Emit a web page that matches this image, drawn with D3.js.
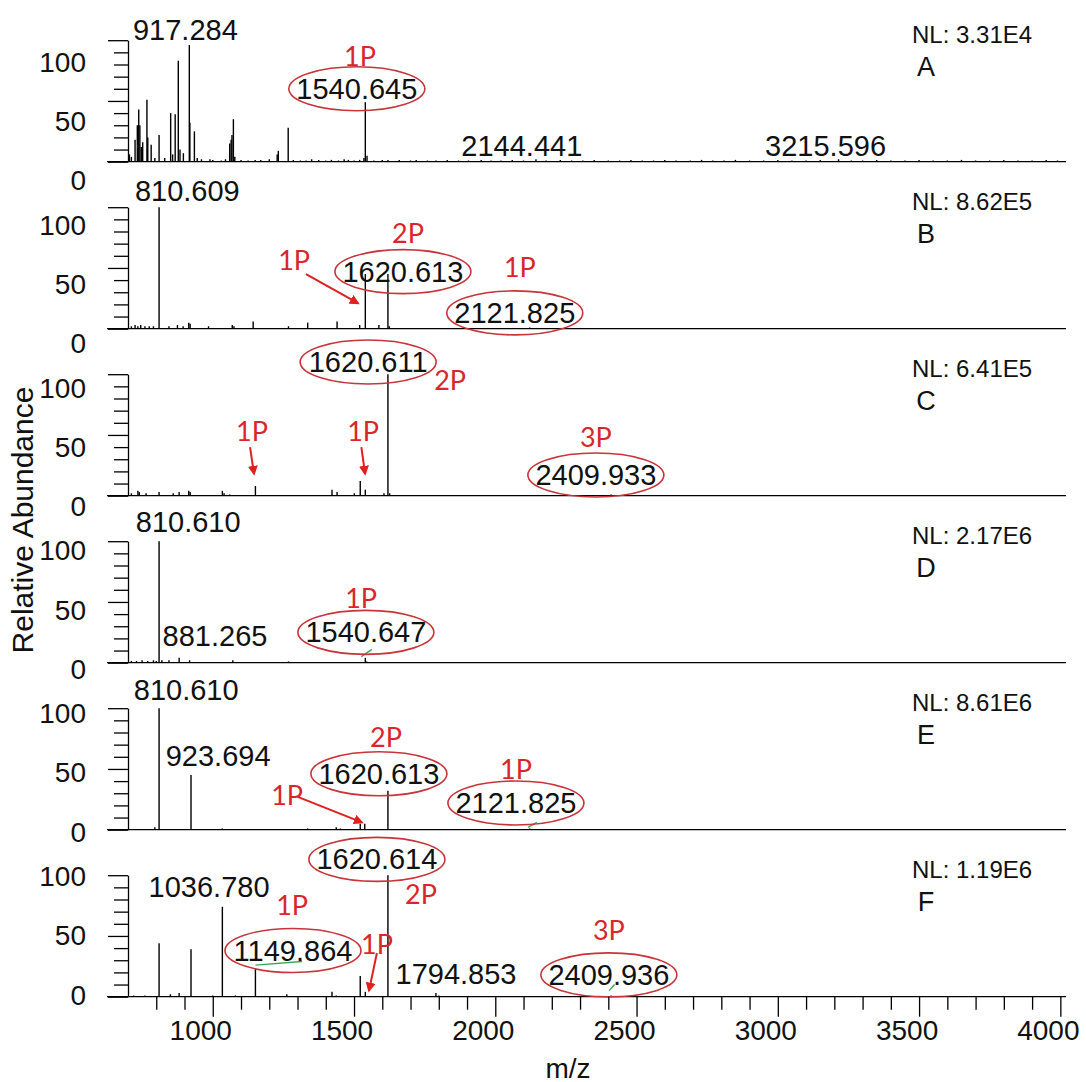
<!DOCTYPE html>
<html>
<head>
<meta charset="utf-8">
<script src="https://cdn.jsdelivr.net/npm/d3@7"></script>
<style>
  body { margin: 0; background: #fff; }
  svg { display: block; font-family: "Liberation Sans", Arial, sans-serif; }
  .peak { stroke: #000; stroke-width: 1.4; }
  .axis line, .axis path { stroke: #000; stroke-width: 1.3; }
  .num { font-size: 29px; fill: #111; }
  .ticklab { font-size: 28px; fill: #111; }
  .ytitle { font-size: 30px; fill: #111; }
  .tag { font-family: Lato, "Open Sans", sans-serif; font-size: 27px; fill: #d8262b; }
  .ring { fill: none; stroke: #c8343a; stroke-width: 1.6; }
  .nl { font-size: 24px; fill: #111; }
  .letter { font-size: 27px; fill: #111; }
</style>
</head>
<body>
<svg id="canvas" width="1086" height="1082"></svg>
<script>
  // spectra A..F, each peak is [m/z, relative abundance %]
  const panelNames = ["A", "B", "C", "D", "E", "F"];
  const nlValues = ["3.31E4", "8.62E5", "6.41E5", "2.17E6", "8.61E6", "1.19E6"];
  const xTickValues = [1000, 1500, 2000, 2500, 3000, 3500, 4000];
  const yTickLabels = [0, 50, 100];

  const peaksA = [
    [705, 6], [712, 4], [725, 18], [733, 30], [738, 43], [742, 30], [747, 12], [752, 16], [767, 51], [770, 20],
    [782, 14], [795, 3], [810, 22], [830, 3], [851, 40], [858, 6], [867, 39], [878, 83], [884, 10], [896, 7],
    [917, 96], [919, 32], [935, 25], [945, 3], [960, 2], [990, 2], [1000, 1.5], [1030, 1], [1045, 2],
    [1060, 15], [1065, 18], [1068, 22], [1073, 35], [1078, 4], [1100, 1.5], [1125, 1], [1150, 1.5], [1170, 1.5],
    [1200, 2], [1228, 6], [1232, 9], [1267, 28], [1285, 1.5], [1310, 1], [1330, 1], [1350, 2], [1375, 1.5],
    [1400, 1], [1420, 1.5], [1445, 1], [1465, 2], [1480, 1.5], [1500, 1], [1520, 1.5], [1535, 3], [1540, 49],
    [1546, 5], [1570, 1], [1600, 1.5], [1620, 1.5], [1660, 1.5], [1700, 1], [1720, 1.5], [1760, 1], [1790, 1],
    [1830, 1.5], [1870, 1], [1905, 1], [1950, 1.5], [1985, 1], [2020, 1], [2060, 1.5], [2100, 1], [2144, 2],
    [2180, 1], [2230, 1.5], [2270, 1], [2310, 1], [2350, 1.5], [2400, 1], [2440, 1], [2480, 1.5], [2520, 1],
    [2560, 1], [2600, 1.5], [2640, 1], [2690, 1], [2730, 1.5], [2770, 1], [2810, 1], [2850, 1.5], [2900, 1],
    [2950, 1], [3000, 1.5], [3050, 1], [3100, 1], [3150, 1.5], [3215, 2], [3260, 1], [3300, 1], [3350, 1.5],
    [3400, 1], [3450, 1], [3500, 1.5], [3550, 1], [3600, 1], [3650, 1.5], [3700, 1], [3750, 1], [3800, 1.5],
    [3850, 1], [3900, 1], [3950, 1.5], [3990, 1]
  ];
  const peaksB = [
    [712, 2], [725, 3], [735, 2], [745, 3], [760, 2], [775, 2], [790, 2], [810, 100], [845, 2], [875, 3],
    [895, 2], [915, 5], [920, 4], [985, 2], [1069, 3], [1075, 2], [1143, 6], [1268, 2], [1336, 5], [1440, 6],
    [1520, 3], [1540, 45], [1588, 3], [1620, 45], [1625, 2], [2122, 1]
  ];
  const peaksC = [
    [712, 2], [735, 4], [740, 3], [764, 2], [810, 3], [860, 2], [881, 3], [915, 4], [920, 3], [1034, 4],
    [1040, 2], [1060, 1], [1151, 8], [1422, 5], [1440, 3], [1501, 2], [1522, 12], [1540, 5], [1606, 2],
    [1620, 100], [1626, 2], [2410, 1]
  ];
  const peaksD = [
    [712, 1.5], [730, 1.5], [750, 2], [770, 1.5], [790, 2], [800, 1.5], [810, 100], [820, 2], [845, 2],
    [881, 4], [918, 2], [1071, 2], [1268, 1], [1540, 4], [1545, 1]
  ];
  const peaksE = [
    [795, 2], [810, 100], [923, 45], [1034, 1], [1336, 1], [1437, 2], [1452, 1], [1522, 5], [1538, 5],
    [1620, 32], [2122, 1]
  ];
  const peaksF = [
    [720, 1], [760, 1], [810, 44], [850, 2], [881, 3], [923, 39], [1000, 1], [1034, 74], [1080, 1],
    [1151, 23], [1262, 2], [1422, 4], [1437, 1], [1522, 17], [1540, 4], [1620, 100], [1790, 3], [1800, 1],
    [2410, 1]
  ];
  const peakSets = [peaksA, peaksB, peaksC, peaksD, peaksE, peaksF];

  // annotations, anchored in data units (m/z, %)
  const peakLabels = [
    [["917.284", 903, 108], ["2144.441", 2094, 13], ["3215.596", 3169, 13]],
    [["810.609", 910, 113]],
    [],
    [["810.610", 913, 116], ["881.265", 1008, 22]],
    [["810.610", 906, 115], ["923.694", 1019, 61]],
    [["1036.780", 987, 90], ["1794.853", 1861, 19]]
  ];
  const circled = [
    [["1540.645", 1510, 60]],
    [["1620.613", 1673, 47], ["2121.825", 2069, 13]],
    [["1620.611", 1550, 110], ["2409.933", 2356, 17]],
    [["1540.647", 1542, 25]],
    [["1620.613", 1588, 46], ["2121.825", 2073, 22]],
    [["1620.614", 1581, 113], ["1149.864", 1284, 38], ["2409.936", 2402, 18]]
  ];
  const tags = [
    [["1P", 1521, 87]],
    [["2P", 1691, 79], ["1P", 1288, 57], ["1P", 2087, 51]],
    [["2P", 1840, 96], ["1P", 1139, 54], ["1P", 1532, 54], ["3P", 2356, 49]],
    [["1P", 1525, 54]],
    [["2P", 1613, 77], ["1P", 1263, 29], ["1P", 2073, 50]],
    [["2P", 1737, 85], ["1P", 1281, 76], ["1P", 1581, 44], ["3P", 2402, 55]]
  ];
  const arrows = [
    [],
    [[1330, 45, 1514, 21]],
    [[1132, 40, 1146, 18], [1526, 40, 1539, 18]],
    [],
    [[1301, 27, 1528, 6]],
    [[1581, 36, 1553, 5]]
  ];
  const greenMarks = [
    [], [], [],
    [[1526, 5, 1563, 11]],
    [[2116, 2, 2147, 6]],
    [[1151, 26, 1316, 29], [2403, 5, 2422, 10]]
  ];

  const svg = d3.select("#canvas");
  svg.append("rect").attr("width", 1086).attr("height", 1082).attr("fill", "#fff");

  svg.append("defs").append("marker")
      .attr("id", "head")
      .attr("viewBox", "0 0 10 10")
      .attr("refX", 8).attr("refY", 5)
      .attr("markerWidth", 5).attr("markerHeight", 5)
      .attr("orient", "auto")
    .append("path")
      .attr("d", "M0,0 L10,5 L0,10 z")
      .attr("fill", "#e01f1f");

  const x = d3.scaleLinear().domain([700, 4020]).range([128, 1066]);
  const firstBase = 161.7, step = 167, span = 121.5;
  const last = panelNames.length - 1;
  const lastBase = firstBase + step * last;
  // the printed tick numbers sit on a slightly squeezed column
  const labelY = yy => 995 + (yy - lastBase) * 0.975;

  panelNames.forEach((name, i) => {
    const base = firstBase + step * i;
    const y = d3.scaleLinear().domain([0, 100]).range([base, base - span]);
    const g = svg.append("g");

    g.append("line")
        .attr("x1", x.range()[0] - 21).attr("x2", x.range()[1])
        .attr("y1", base).attr("y2", base)
        .attr("stroke", "#000").attr("stroke-width", 1.3);

    const ya = g.append("g")
        .attr("class", "axis")
        .attr("transform", `translate(${x.range()[0]},0)`)
        .call(d3.axisLeft(y).tickValues(d3.range(0, 101, 10)).tickSize(14).tickSizeOuter(0).tickFormat(""));
    ya.selectAll(".tick line").filter(d => d % 50 === 0).attr("x2", -20);

    g.selectAll("text.ylab")
      .data(yTickLabels)
      .join("text")
        .attr("class", "ticklab")
        .attr("x", 86)
        .attr("y", d => labelY(y(d)))
        .attr("text-anchor", "end")
        .attr("dominant-baseline", "central")
        .text(d => d);

    g.selectAll("line.peak")
      .data(peakSets[i])
      .join("line")
        .attr("class", "peak")
        .attr("x1", d => x(d[0])).attr("x2", d => x(d[0]))
        .attr("y1", base).attr("y2", d => y(d[1]));

    g.selectAll("line.green")
      .data(greenMarks[i])
      .join("line")
        .attr("x1", d => x(d[0])).attr("y1", d => y(d[1]))
        .attr("x2", d => x(d[2])).attr("y2", d => y(d[3]))
        .attr("stroke", "#3aa655").attr("stroke-width", 1.4);

    g.selectAll("text.plab")
      .data(peakLabels[i])
      .join("text")
        .attr("class", "num")
        .attr("x", d => x(d[1])).attr("y", d => y(d[2]))
        .attr("text-anchor", "middle")
        .attr("dominant-baseline", "central")
        .text(d => d[0]);

    const c = g.selectAll("g.circ")
      .data(circled[i])
      .join("g")
        .attr("transform", d => `translate(${x(d[1])},${y(d[2])})`);
    c.append("text")
        .attr("class", "num")
        .attr("text-anchor", "middle")
        .attr("dominant-baseline", "central")
        .text(d => d[0]);
    c.append("ellipse")
        .attr("class", "ring")
        .attr("rx", 68).attr("ry", 22);

    g.selectAll("text.tagl")
      .data(tags[i])
      .join("text")
        .attr("class", "tag")
        .attr("x", d => x(d[1])).attr("y", d => y(d[2]))
        .attr("text-anchor", "middle")
        .attr("dominant-baseline", "central")
        .text(d => d[0]);

    g.selectAll("line.arrow")
      .data(arrows[i])
      .join("line")
        .attr("x1", d => x(d[0])).attr("y1", d => y(d[1]))
        .attr("x2", d => x(d[2])).attr("y2", d => y(d[3]))
        .attr("stroke", "#e01f1f").attr("stroke-width", 2)
        .attr("marker-end", "url(#head)");

    g.append("text")
        .attr("class", "nl")
        .attr("x", 912).attr("y", base - 127)
        .attr("dominant-baseline", "central")
        .text("NL: " + nlValues[i]);
    g.append("text")
        .attr("class", "letter")
        .attr("x", 926).attr("y", base - 95)
        .attr("text-anchor", "middle")
        .attr("dominant-baseline", "central")
        .text(name);

    if (i === last) {
      const xa = g.append("g")
          .attr("class", "axis")
          .attr("transform", `translate(0,${base})`)
          .call(d3.axisBottom(x).tickValues(d3.range(800, 4001, 100)).tickSize(13).tickSizeOuter(0).tickFormat(""));
      xa.select(".domain").remove();
      xa.selectAll(".tick line").filter(d => d % 500 === 0).attr("y2", 20);

      g.selectAll("text.xlab")
        .data(xTickValues)
        .join("text")
          .attr("class", "ticklab")
          .attr("x", d => x(d) - 12)
          .attr("y", base + 34)
          .attr("text-anchor", "middle")
          .attr("dominant-baseline", "central")
          .text(d => d);
    }
  });

  svg.append("text")
      .attr("class", "ticklab")
      .attr("x", 568).attr("y", 1068)
      .attr("text-anchor", "middle")
      .attr("dominant-baseline", "central")
      .text("m/z");

  svg.append("text")
      .attr("class", "ytitle")
      .attr("transform", "translate(22,520) rotate(-90)")
      .attr("text-anchor", "middle")
      .attr("dominant-baseline", "central")
      .text("Relative Abundance");
</script>
</body>
</html>
